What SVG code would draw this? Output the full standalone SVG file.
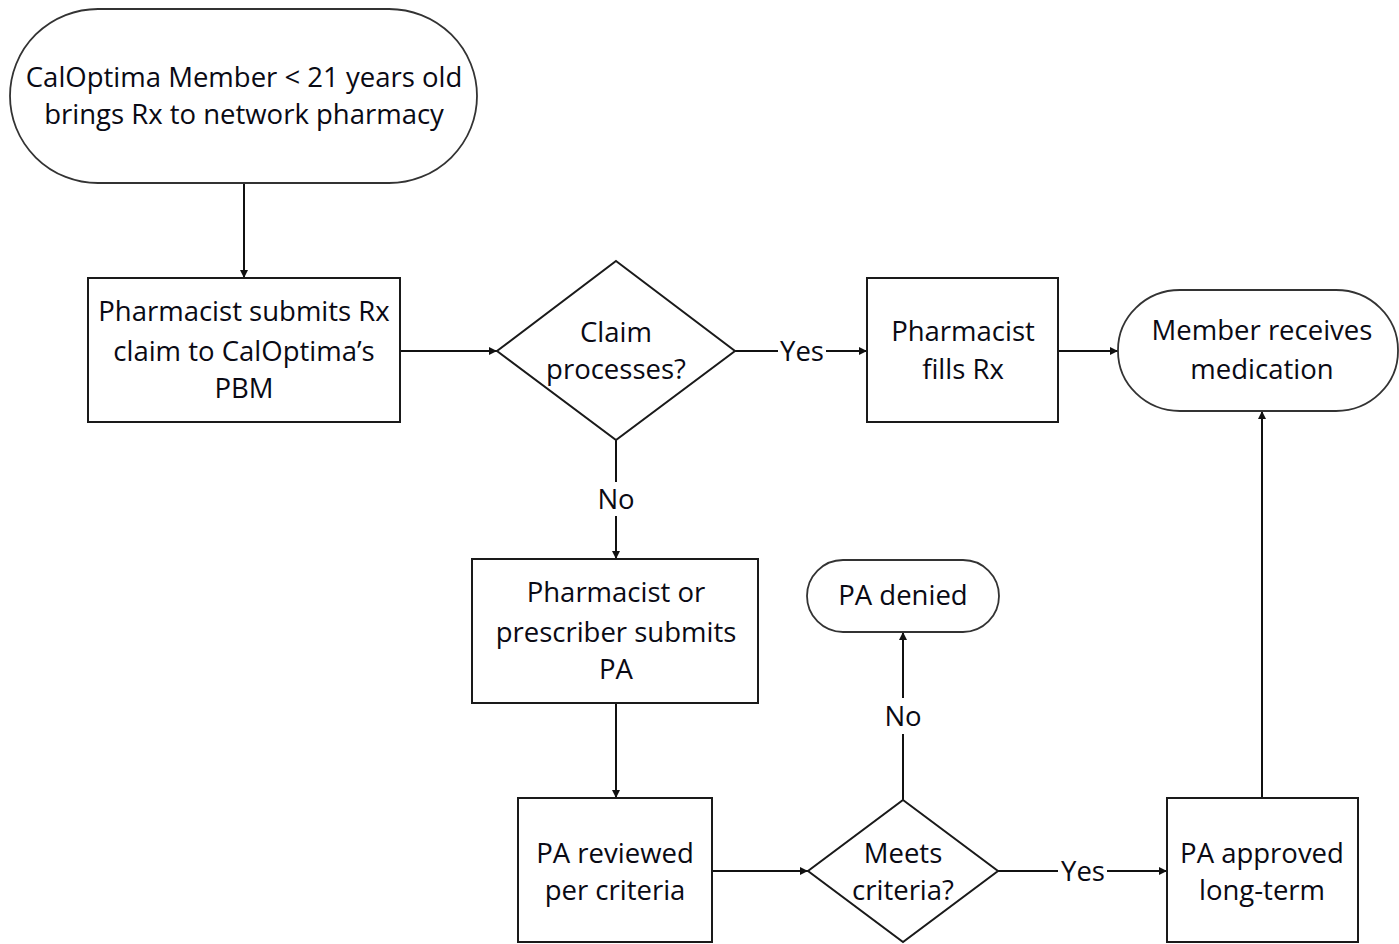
<svg xmlns="http://www.w3.org/2000/svg" width="1399" height="944" viewBox="0 0 1399 944">
<style>
.shape{fill:#fff;stroke:#1a1a1a;stroke-width:2}
.term{fill:#fff;stroke:#333;stroke-width:1.8}
.line{fill:none;stroke:#111;stroke-width:2}
text{font-family:"Open Sans","Liberation Sans",sans-serif;font-size:27.5px;fill:#0a0a14;text-anchor:middle}
</style>
<defs>
<marker id="ah" viewBox="0 0 10 10" refX="10" refY="5" markerWidth="9" markerHeight="8" markerUnits="userSpaceOnUse" orient="auto">
<path d="M0,0 L10,5 L0,10 z" fill="#111"/>
</marker>
</defs>
<rect width="1399" height="944" fill="#fff"/>
<g id="connectors">
<line class="line" x1="244" y1="183" x2="244" y2="278" marker-end="url(#ah)"/>
<line class="line" x1="400" y1="351" x2="497" y2="351" marker-end="url(#ah)"/>
<line class="line" x1="735" y1="351" x2="778" y2="351"/>
<line class="line" x1="826" y1="351" x2="867" y2="351" marker-end="url(#ah)"/>
<text x="802" y="361">Yes</text>
<line class="line" x1="1058" y1="351" x2="1118" y2="351" marker-end="url(#ah)"/>
<line class="line" x1="616" y1="440" x2="616" y2="482"/>
<line class="line" x1="616" y1="516" x2="616" y2="559" marker-end="url(#ah)"/>
<text x="616" y="509">No</text>
<line class="line" x1="616" y1="703" x2="616" y2="798" marker-end="url(#ah)"/>
<line class="line" x1="712" y1="871" x2="808" y2="871" marker-end="url(#ah)"/>
<line class="line" x1="903" y1="800" x2="903" y2="734"/>
<line class="line" x1="903" y1="698" x2="903" y2="632" marker-end="url(#ah)"/>
<text x="903" y="726">No</text>
<line class="line" x1="998" y1="871" x2="1058" y2="871"/>
<line class="line" x1="1107" y1="871" x2="1167" y2="871" marker-end="url(#ah)"/>
<text x="1083" y="881">Yes</text>
<line class="line" x1="1262" y1="798" x2="1262" y2="411" marker-end="url(#ah)"/>
</g>
<g id="start">
<rect class="term" x="10" y="9" width="467" height="174" rx="88" ry="87"/>
<text x="244" y="87">CalOptima Member &lt; 21 years old</text>
<text x="244" y="124">brings Rx to network pharmacy</text>
</g>
<g id="submit-claim">
<rect class="shape" x="88" y="278" width="312" height="144"/>
<text x="244" y="321">Pharmacist submits Rx</text>
<text x="244" y="361">claim to CalOptima’s</text>
<text x="244" y="398">PBM</text>
</g>
<g id="claim-processes">
<polygon class="shape" points="616,261 735,351 616,440 497,351"/>
<text x="616" y="342">Claim</text>
<text x="616" y="379">processes?</text>
</g>
<g id="fills-rx">
<rect class="shape" x="867" y="278" width="191" height="144"/>
<text x="963" y="341">Pharmacist</text>
<text x="963" y="379">fills Rx</text>
</g>
<g id="receives">
<rect class="term" x="1118" y="290" width="280" height="121" rx="62" ry="60"/>
<text x="1262" y="340">Member receives</text>
<text x="1262" y="379">medication</text>
</g>
<g id="submit-pa">
<rect class="shape" x="472" y="559" width="286" height="144"/>
<text x="616" y="602">Pharmacist or</text>
<text x="616" y="642">prescriber submits</text>
<text x="616" y="679">PA</text>
</g>
<g id="pa-denied">
<rect class="term" x="807" y="560" width="192" height="72" rx="36" ry="36"/>
<text x="903" y="605">PA denied</text>
</g>
<g id="pa-reviewed">
<rect class="shape" x="518" y="798" width="194" height="144"/>
<text x="615" y="863">PA reviewed</text>
<text x="615" y="900">per criteria</text>
</g>
<g id="meets-criteria">
<polygon class="shape" points="903,800 998,871 903,942 808,871"/>
<text x="903" y="863">Meets</text>
<text x="903" y="900">criteria?</text>
</g>
<g id="pa-approved">
<rect class="shape" x="1167" y="798" width="191" height="144"/>
<text x="1262" y="863">PA approved</text>
<text x="1262" y="900">long-term</text>
</g>
</svg>
